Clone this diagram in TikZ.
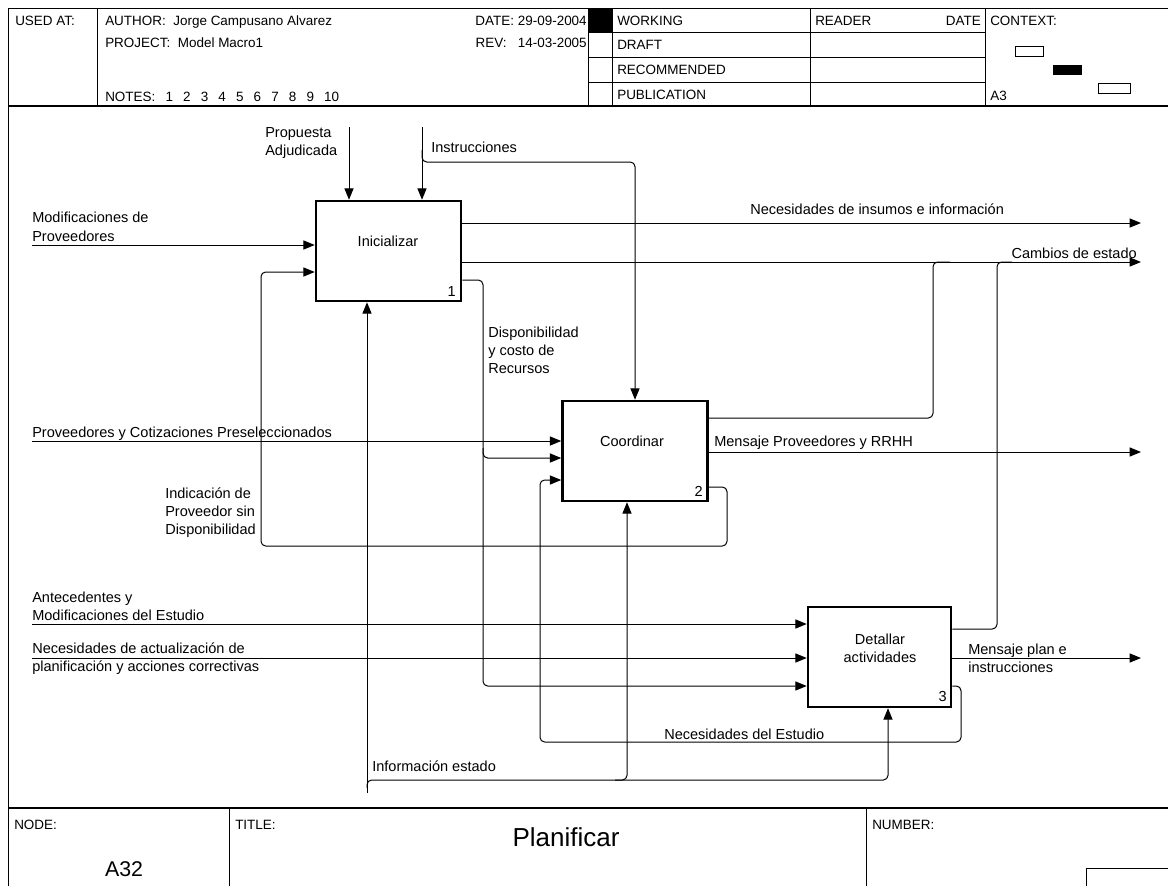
\documentclass[tikz,border=0pt]{standalone}
\usepackage{fontspec}
\setmainfont{Liberation Sans}
\usetikzlibrary{arrows.meta,calc}
\newcommand\hdrfont{\fontsize{10.1pt}{12pt}\selectfont}
\newcommand\lblfont{\fontsize{10.9pt}{13pt}\selectfont}
\newcommand\bigtitlefont{\fontsize{19.5pt}{22pt}\selectfont}
\newcommand\nodenumfont{\fontsize{16pt}{19pt}\selectfont}
\newcommand\ngap{\hspace{7.6pt}}
\begin{document}
\begin{tikzpicture}[x=0.75pt,y=-0.75pt,
  frame/.style={line width=0.75pt},
  idef/.style={draw,line width=1.9pt,minimum width=108.75pt,minimum height=75pt,inner sep=0pt},
  conn/.style={line width=0.75pt,rounded corners=3.5pt},
  arr/.style={conn,-{Triangle[length=8.5pt,width=6.8pt]}},
  lbl/.style={font=\lblfont,inner sep=0pt,anchor=base west},
  hdr/.style={font=\hdrfont,inner sep=0pt,anchor=base west},
]
\useasboundingbox (0,0) rectangle (1168,886);
% ---------- frame ----------
\draw[frame] (8,886) -- (8,8) -- (1168,8);
\draw[line width=1.1pt] (8,106) -- (1168,106);
\draw[frame] (97,8) -- (97,106);
\draw[frame] (588,8) -- (588,106);
\draw[frame] (612,8) -- (612,106);
\draw[frame] (810,8) -- (810,106);
\draw[frame] (985,8) -- (985,106);
\draw[frame] (588,32) -- (985,32);
\draw[frame] (588,57) -- (985,57);
\draw[frame] (588,82) -- (985,82);
\fill (588,8) rectangle (612,32);
\draw[frame] (1015,46) rectangle (1043,56);
\fill (1053,65) rectangle (1082,75);
\draw[frame] (1098,83) rectangle (1130,93);
% header texts
\node[hdr] (usedat) at (15,25) {USED AT:};
\node[hdr] (author) at (105,25) {AUTHOR:\ \ Jorge Campusano Alvarez};
\node[hdr] (project) at (105,47) {PROJECT:\ \ Model Macro1};
\node[hdr] (notes) at (105,101) {NOTES:\ngap 1\ngap 2\ngap 3\ngap 4\ngap 5\ngap 6\ngap 7\ngap 8\ngap 9\ngap 10};
\node[hdr,anchor=base east] (date) at (587,25) {DATE:\ 29-09-2004};
\node[hdr,anchor=base east] (rev) at (587,47) {REV:\ \ \ 14-03-2005};
\node[hdr] (working) at (617,25) {WORKING};
\node[hdr] (draft) at (617,49) {DRAFT};
\node[hdr] (recom) at (617,74) {RECOMMENDED};
\node[hdr] (publ) at (617,99) {PUBLICATION};
\node[hdr] (reader) at (815,25) {READER};
\node[hdr,anchor=base east] (rdate) at (981,25) {DATE};
\node[hdr] (context) at (990,25) {CONTEXT:};
\node[hdr] (a3) at (990,100) {A3};
% footer
\draw[line width=1pt] (8,808) -- (1168,808);
\draw[frame] (229,808) -- (229,886);
\draw[frame] (866,808) -- (866,886);
\draw[frame] (1086,886) -- (1086,868) -- (1168,868);
\node[hdr] (nodek) at (14,829) {NODE:};
\node[font=\nodenumfont,inner sep=0pt] (nodev) at (124,869) {A32};
\node[hdr] (titlek) at (235,829) {TITLE:};
\node[font=\bigtitlefont,inner sep=0pt] (titlev) at (566,837) {Planificar};
\node[hdr] (numberk) at (872,829) {NUMBER:};
% ---------- boxes ----------
\node[idef] (box1) at (388.5,251) {};
\node[idef] (box2) at (635,451) {};
\node[idef,minimum width=107.25pt] (box3) at (879.5,657) {};
\node[font=\lblfont,inner sep=0pt,anchor=base] (t1) at (388,246) {Inicializar};
\node[font=\lblfont,inner sep=0pt,anchor=base] (t2) at (632,446) {Coordinar};
\node[font=\lblfont,inner sep=0pt,anchor=base] (t3a) at (880,644) {Detallar};
\node[font=\lblfont,inner sep=0pt,anchor=base] (t3b) at (880,662) {actividades};
\node[font=\lblfont,inner sep=0pt,anchor=base east] (n1) at (456,296) {1};
\node[font=\lblfont,inner sep=0pt,anchor=base east] (n2) at (703,496) {2};
\node[font=\lblfont,inner sep=0pt,anchor=base east] (n3) at (947,701) {3};
% ---------- coordinates ----------
\coordinate (cprop) at (349,127);
\coordinate (cinst) at (422,127);
\coordinate (imod) at (32,245);
\coordinate (iprov) at (32,441);
\coordinate (iante) at (32,624);
\coordinate (inec) at (32,658);
\coordinate (onec) at (1141,223);
\coordinate (ocamb) at (1141,262);
\coordinate (omens) at (1141,452);
\coordinate (oplan) at (1141,658);
\coordinate (mech) at (367,793);
% ---------- connectors ----------
\draw[arr] (cprop) -- (cprop |- box1.north);
\draw[arr] (cinst) -- (cinst |- box1.north);
\draw[arr] (422,150) -- (422,162) -- (635,162) -- (box2.north);
\draw[arr] (imod) -- (imod -| box1.west);
\draw[arr] (box1.east |- onec) -- (onec);
\draw[arr] (box1.east |- ocamb) -- (ocamb);
\draw[conn] (box2.east |- 0,418) -- (933,418) -- (933,262) -- (950,262);
\draw[conn] (box3.east |- 0,629) -- (997,629) -- (997,262) -- (1012,262);
% disponibilidad y costo de recursos
\draw[arr] (box1.east |- 0,280) -- (483,280) -- (483,686) -- (box3.west |- 0,686);
\draw[arr] (483,448) -- (483,458) -- (box2.west |- 0,458);
% proveedores y cotizaciones
\draw[arr] (iprov) -- (iprov -| box2.west);
% indicacion de proveedor sin disponibilidad
\draw[arr] (box2.east |- 0,487) -- (727,487) -- (727,546) -- (261,546) -- (261,272) -- (box1.west |- 0,272);
\draw[arr] (box2.east |- omens) -- (omens);
% box3 inputs / outputs
\draw[arr] (iante) -- (iante -| box3.west);
\draw[arr] (inec) -- (inec -| box3.west);
\draw[arr] (box3.east |- oplan) -- (oplan);
% necesidades del estudio
\draw[arr] (box3.east |- 0,686) -- (961,686) -- (961,742) -- (540,742) -- (540,480) -- (box2.west |- 0,480);
% mechanism
\draw[arr] (mech) -- (mech |- box1.south);
\draw[arr] (367,788) -- (367,780) -- (888,780) -- (888,707) -- (box3.south -| 888,0);
\draw[arr] (615,780) -- (627,780) -- (627,501) -- (box2.south -| 627,0);
% ---------- labels ----------
\node[lbl] (lprop1) at (265,137) {Propuesta};
\node[lbl] (lprop2) at (265,155) {Adjudicada};
\node[lbl] (linst) at (431,152) {Instrucciones};
\node[lbl] (lmod1) at (32,222) {Modificaciones de};
\node[lbl] (lmod2) at (32,241) {Proveedores};
\node[lbl] (lonec) at (750,214) {Necesidades de insumos e información};
\node[lbl,anchor=base east] (locamb) at (1137,258) {Cambios de estado};
\node[lbl] (ldisp1) at (488,337) {Disponibilidad};
\node[lbl] (ldisp2) at (488,355) {y costo de};
\node[lbl] (ldisp3) at (488,373) {Recursos};
\node[lbl] (lprov) at (32,437) {Proveedores y Cotizaciones Preseleccionados};
\node[lbl] (lmens) at (714,446) {Mensaje Proveedores y RRHH};
\node[lbl] (lind1) at (165,498) {Indicación de};
\node[lbl] (lind2) at (165,516) {Proveedor sin};
\node[lbl] (lind3) at (165,534) {Disponibilidad};
\node[lbl] (lante1) at (32,602) {Antecedentes y};
\node[lbl] (lante2) at (32,620) {Modificaciones del Estudio};
\node[lbl] (lnec1) at (32,653) {Necesidades de actualización de};
\node[lbl] (lnec2) at (32,671) {planificación y acciones correctivas};
\node[lbl] (lplan1) at (968,654) {Mensaje plan e};
\node[lbl] (lplan2) at (968,672) {instrucciones};
\node[lbl] (lnest) at (664,739) {Necesidades del Estudio};
\node[lbl] (linfo) at (372,771) {Información estado};
\end{tikzpicture}
\end{document}
